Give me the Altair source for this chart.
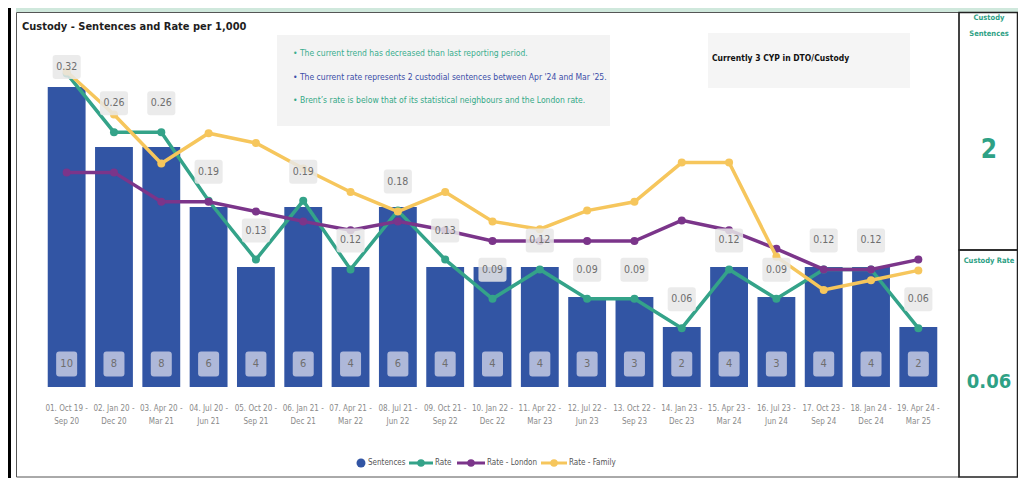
import altair as alt
import pandas as pd

# ---------------- data ----------------
categories = [
    "01. Oct 19 - Sep 20", "02. Jan 20 - Dec 20", "03. Apr 20 - Mar 21",
    "04. Jul 20 - Jun 21", "05. Oct 20 - Sep 21", "06. Jan 21 - Dec 21",
    "07. Apr 21 - Mar 22", "08. Jul 21 - Jun 22", "09. Oct 21 - Sep 22",
    "10. Jan 22 - Dec 22", "11. Apr 22 - Mar 23", "12. Jul 22 - Jun 23",
    "13. Oct 22 - Sep 23", "14. Jan 23 - Dec 23", "15. Apr 23 - Mar 24",
    "16. Jul 23 - Jun 24", "17. Oct 23 - Sep 24", "18. Jan 24 - Dec 24",
    "19. Apr 24 - Mar 25",
]
sentences = [10, 8, 8, 6, 4, 6, 4, 6, 4, 4, 4, 3, 3, 2, 4, 3, 4, 4, 2]
rate = [0.32, 0.26, 0.26, 0.19, 0.13, 0.19, 0.12, 0.18, 0.13, 0.09,
        0.12, 0.09, 0.09, 0.06, 0.12, 0.09, 0.12, 0.12, 0.06]
rate_london = [0.219, 0.219, 0.189, 0.189, 0.179, 0.169, 0.160, 0.169, 0.160, 0.149,
               0.149, 0.149, 0.149, 0.170, 0.160, 0.141, 0.120, 0.120, 0.130]
rate_family = [0.322, 0.278, 0.228, 0.259, 0.249, 0.223, 0.199, 0.179, 0.199, 0.169,
               0.161, 0.180, 0.189, 0.229, 0.229, 0.133, 0.099, 0.109, 0.119]

title_text = "Custody - Sentences and Rate per 1,000"
notes = [
    ("\u2022 The current trend has decreased than last reporting period.", "#3aae8e"),
    ("\u2022 The current rate represents 2 custodial sentences between Apr '24 and Mar '25.", "#3b4ea8"),
    ("\u2022 Brent\u2019s rate is below that of its statistical neighbours and the London rate.", "#35a987"),
]
cyp_text = "Currently 3 CYP in DTO/Custody"
kpi_sent_title = ["Custody", "Sentences"]
kpi_sent_value = "2"
kpi_rate_title = "Custody Rate"
kpi_rate_value = "0.06"
legend_labels = ["Sentences", "Rate", "Rate - London", "Rate - Family"]

source = pd.DataFrame({
    "period": categories,
    "sentences": sentences,
    "rate": rate,
    "london": rate_london,
    "family": rate_family,
})
one = pd.DataFrame({"k": [0]})

# ---------------- styling ----------------
W, H = 899, 347
BAR_MAX = H / 30.0
RATE_MAX = H / 980.0
NARROW = "DejaVu Sans Condensed, Liberation Sans Narrow, sans-serif"
BLUE = "#3255a4"
GREEN = "#34a389"
PURPLE = "#7b358a"
YELLOW = "#f6c65c"
TEAL_TXT = "#2ea185"

LABEL_PATH = ("M-0.92,-1 H0.92 Q1.17,-1 1.17,-0.75 V0.75 Q1.17,1 0.92,1 "
              "H-0.92 Q-1.17,1 -1.17,0.75 V-0.75 Q-1.17,-1 -0.92,-1 Z")
COUNT_PATH = ("M-0.6,-1 H0.6 Q0.84,-1 0.84,-0.76 V0.76 Q0.84,1 0.6,1 "
              "H-0.6 Q-0.84,1 -0.84,0.76 V-0.76 Q-0.84,-1 -0.6,-1 Z")

x_enc = alt.X(
    "period:N", sort=categories,
    scale=alt.Scale(paddingInner=0.2, paddingOuter=0.1),
    axis=alt.Axis(
        title=None, domain=False, ticks=False, labelAngle=0, labelPadding=17,
        labelFont=NARROW, labelFontSize=8, labelColor="#8a8a8a",
        labelLineHeight=13, labelOverlap=False, labelLimit=90,
        labelBaseline="top",
        labelExpr="[slice(datum.label, 0, 12), slice(datum.label, 13)]",
    ),
)
bar_y = alt.Y("sentences:Q", scale=alt.Scale(domain=[0, BAR_MAX], nice=False), axis=None)


def rate_y(field):
    return alt.Y(f"{field}:Q", scale=alt.Scale(domain=[0, RATE_MAX], nice=False, zero=True), axis=None)


base = alt.Chart(source)

bars = base.mark_bar(color=BLUE).encode(x=x_enc, y=bar_y)
count_box = base.mark_point(shape=COUNT_PATH, size=625, filled=True, color="#aeb8d9",
                            opacity=1, strokeWidth=0).encode(x=x_enc, y=alt.value(H - 23))
count_txt = base.mark_text(font=NARROW, fontSize=11, color="#6e6e6e").encode(
    x=x_enc, y=alt.value(H - 23), text="sentences:Q")


def series(field, color):
    return base.mark_line(
        color=color, strokeWidth=3.5,
        point=alt.OverlayMarkDef(filled=True, size=64, color=color, opacity=1, strokeWidth=0),
    ).encode(x=x_enc, y=rate_y(field))


line_rate = series("rate", GREEN)
line_london = series("london", PURPLE)
line_family = series("family", YELLOW)

lab = base.transform_calculate(label_y=f"min(datum.rate + {29 / 980:.5f}, {(H - 27) / 980:.5f})")
label_box = lab.mark_point(shape=LABEL_PATH, size=576, filled=True, color="#e8e8e8",
                           opacity=0.85, strokeWidth=0).encode(x=x_enc, y=rate_y("label_y"))
label_txt = lab.mark_text(font=NARROW, fontSize=10.5, color="#6e6e6e").encode(
    x=x_enc, y=rate_y("label_y"), text=alt.Text("rate:Q", format=".2f"))


def rect(x1, x2, y1, y2, **kw):
    return alt.Chart(one).mark_rect(**kw).encode(
        x=alt.value(x1), x2=alt.value(x2), y=alt.value(y1), y2=alt.value(y2))


def txt(xv, yv, s, **kw):
    kw.setdefault("font", NARROW)
    return alt.Chart(one).mark_text(text=s, **kw).encode(x=alt.value(xv), y=alt.value(yv))


def hrule(x1, x2, yv, color):
    return alt.Chart(one).mark_rule(color=color, strokeWidth=3).encode(
        x=alt.value(x1), x2=alt.value(x2), y=alt.value(yv))


def dot(xv, yv, color, size=56):
    return alt.Chart(one).mark_point(filled=True, size=size, color=color, opacity=1,
                                     strokeWidth=0).encode(x=alt.value(xv), y=alt.value(yv))


decor = [
    rect(-35, -32, -32, 438, color="#000000"),
    rect(-27, 975, -32, -28, color="#cfe8dc"),
    rect(-26.5, 916, -27.5, 437, fillOpacity=0, stroke="#555555", strokeWidth=1),
    rect(916, 974.5, -27.5, 210, fillOpacity=0, stroke="#222222", strokeWidth=1.5),
    rect(916, 974.5, 210, 437, fillOpacity=0, stroke="#222222", strokeWidth=1.5),
    txt(-21, -13, title_text, align="left", baseline="middle", fontSize=11,
        fontWeight="bold", color="#1e1e1e"),
    rect(234, 567, -5, 86, color="#f3f3f3"),
    rect(665, 867, -7, 48, color="#f5f5f5"),
    txt(669, 18, cyp_text, align="left", baseline="middle", fontSize=8.5,
        fontWeight="bold", color="#111111"),
    txt(946, -22, kpi_sent_title[0], align="center", baseline="middle", fontSize=7.5,
        fontWeight="bold", color=TEAL_TXT),
    txt(946, -6, kpi_sent_title[1], align="center", baseline="middle", fontSize=7.5,
        fontWeight="bold", color=TEAL_TXT),
    txt(946, 110, kpi_sent_value, align="center", baseline="middle", fontSize=26,
        fontWeight="bold", color=TEAL_TXT),
    txt(946, 221, kpi_rate_title, align="center", baseline="middle", fontSize=7.5,
        fontWeight="bold", color=TEAL_TXT),
    txt(946, 342, kpi_rate_value, align="center", baseline="middle", fontSize=20,
        fontWeight="bold", color=TEAL_TXT),
]
for i, (s, c) in enumerate(notes):
    decor.append(txt(250, 13 + 23.5 * i, s, align="left", baseline="middle",
                     fontSize=8.5, color=c))

LEG_Y = 423
LEG_FS = 8
legend = [
    dot(318, LEG_Y, BLUE, size=80),
    txt(325, LEG_Y, legend_labels[0], align="left", baseline="middle", fontSize=LEG_FS, color="#555555"),
    hrule(366, 390, LEG_Y, GREEN), dot(378, LEG_Y, GREEN),
    txt(392, LEG_Y, legend_labels[1], align="left", baseline="middle", fontSize=LEG_FS, color="#555555"),
    hrule(414, 442, LEG_Y, PURPLE), dot(428, LEG_Y, PURPLE),
    txt(444, LEG_Y, legend_labels[2], align="left", baseline="middle", fontSize=LEG_FS, color="#555555"),
    hrule(498, 524, LEG_Y, YELLOW), dot(511, LEG_Y, YELLOW),
    txt(526, LEG_Y, legend_labels[3], align="left", baseline="middle", fontSize=LEG_FS, color="#555555"),
]

chart = alt.layer(
    *decor[:2],
    bars, count_box, count_txt,
    line_rate, line_london, line_family,
    label_box, label_txt,
    *decor[2:], *legend,
).resolve_scale(y="independent").properties(
    width=W, height=H,
    padding={"left": 35, "top": 32, "right": 76, "bottom": 91},
    autosize=alt.AutoSizeParams(type="none"),
    background="white",
).configure_view(stroke=None)

chart.save("out.html", embed_options={"renderer": "svg", "actions": False})
